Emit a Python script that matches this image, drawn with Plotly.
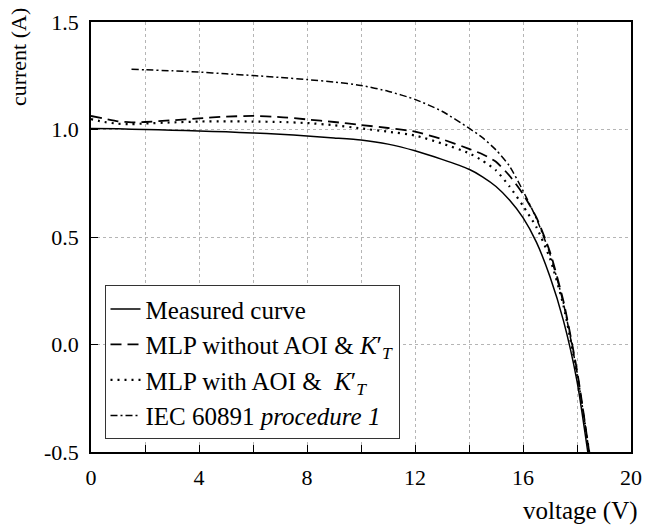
import plotly.graph_objects as go

# ---- data ----
v_meas = [0, 1, 2, 3, 4, 5, 6, 7, 8, 9, 10, 11, 12, 13, 14, 14.5, 15, 15.5, 16, 16.5, 17, 17.5, 18, 18.4]
i_meas = [1.005, 1.003, 1.0, 0.997, 0.993, 0.989, 0.984, 0.978, 0.97, 0.961, 0.951, 0.932, 0.901, 0.861, 0.815,
          0.78, 0.735, 0.672, 0.59, 0.475, 0.315, 0.11, -0.17, -0.5]

v_mlp_no = [0, 0.5, 1, 1.5, 2, 3, 4, 5, 6, 7, 8, 9, 10, 11, 12, 13, 14, 14.5, 15, 15.5, 16, 16.5, 17, 17.5, 18, 18.45]
i_mlp_no = [1.063, 1.05, 1.038, 1.033, 1.035, 1.043, 1.052, 1.06, 1.063, 1.058, 1.047, 1.035, 1.021, 1.007, 0.99,
            0.955, 0.91, 0.885, 0.85, 0.785, 0.70, 0.59, 0.43, 0.2, -0.12, -0.5]

v_mlp_aoi = [0, 0.5, 1, 1.5, 2, 3, 4, 5, 6, 7, 8, 9, 10, 11, 12, 13, 14, 14.5, 15, 15.5, 16, 16.5, 17, 17.5, 18, 18.45]
i_mlp_aoi = [1.048, 1.035, 1.027, 1.025, 1.028, 1.033, 1.037, 1.038, 1.037, 1.035, 1.03, 1.02, 1.005, 0.99, 0.972,
             0.935, 0.89, 0.855, 0.81, 0.735, 0.645, 0.545, 0.40, 0.18, -0.14, -0.5]

v_iec = [1.5, 2, 3, 4, 5, 6, 7, 8, 9, 10, 11, 12, 13, 14, 14.5, 15, 15.5, 16, 16.5, 17, 17.5, 18, 18.45]
i_iec = [1.28, 1.278, 1.273, 1.267, 1.259, 1.251, 1.242, 1.232, 1.221, 1.205, 1.178, 1.14, 1.085, 1.006, 0.962,
         0.905, 0.83, 0.715, 0.585, 0.42, 0.19, -0.13, -0.5]

x_ticks = [0, 4, 8, 12, 16, 20]
y_ticks = [-0.5, 0.0, 0.5, 1.0, 1.5]
y_tick_text = ["-0.5", "0.0", "0.5", "1.0", "1.5"]

names = ["Measured curve",
         "MLP without AOI &amp; <i>K</i>′<sub><i>T</i></sub>",
         "MLP with AOI &amp;  <i>K</i>′<sub><i>T</i></sub>",
         "IEC 60891 <i>procedure 1</i>"]

FONT = "Liberation Serif, Times New Roman, serif"

fig = go.Figure()
fig.add_trace(go.Scatter(x=v_meas, y=i_meas, mode="lines", name=names[0],
                         line=dict(color="black", width=1.5, shape="spline", smoothing=0.6)))
fig.add_trace(go.Scatter(x=v_mlp_no, y=i_mlp_no, mode="lines", name=names[1],
                         line=dict(color="black", width=1.8, dash="11px,6px", shape="spline", smoothing=0.6)))
fig.add_trace(go.Scatter(x=v_mlp_aoi, y=i_mlp_aoi, mode="lines", name=names[2],
                         line=dict(color="black", width=2.2, dash="2px,5px", shape="spline", smoothing=0.6)))
fig.add_trace(go.Scatter(x=v_iec, y=i_iec, mode="lines", name=names[3],
                         line=dict(color="black", width=1.5, dash="7px,3px,2px,3px", shape="spline", smoothing=0.6)))

axis_common = dict(
    showline=True, linecolor="black", linewidth=1.5, mirror=True,
    ticks="inside", ticklen=7, tickcolor="black", tickwidth=1,
    showgrid=True, gridcolor="#b5b5b5", gridwidth=1, griddash="dot",
    zeroline=False,
    tickfont=dict(family=FONT, size=22, color="black"),
)

fig.update_xaxes(range=[0, 20], tickmode="array", tickvals=x_ticks, ticktext=[str(t) for t in x_ticks],
                 minor=dict(dtick=2, tick0=0, ticks="inside", ticklen=7, tickcolor="black",
                            showgrid=True, gridcolor="#b5b5b5", griddash="dot", gridwidth=1),
                 ticklabelstandoff=5, **axis_common)
fig.update_yaxes(range=[-0.5, 1.5], tickmode="array", tickvals=y_ticks, ticktext=y_tick_text,
                 ticklabelstandoff=6, **axis_common)

fig.add_annotation(text="current (A)", xref="paper", yref="paper", x=-0.162, y=1.037,
                   xanchor="left", yanchor="top", textangle=-90, showarrow=False,
                   font=dict(family=FONT, size=22, color="black"))
fig.add_annotation(text="voltage (V)", xref="paper", yref="paper", x=1.017, y=-0.1,
                   xanchor="right", yanchor="top", showarrow=False,
                   font=dict(family=FONT, size=25, color="black"))

fig.update_layout(
    width=652, height=526,
    margin=dict(l=91, r=10, t=22, b=74),
    paper_bgcolor="white", plot_bgcolor="white",
    showlegend=True,
    legend=dict(x=0.025, y=0.388, xanchor="left", yanchor="top",
                bgcolor="white", bordercolor="#333", borderwidth=1,
                font=dict(family=FONT, size=25, color="black"),
                tracegroupgap=0),
)

fig.write_html("out.html")
